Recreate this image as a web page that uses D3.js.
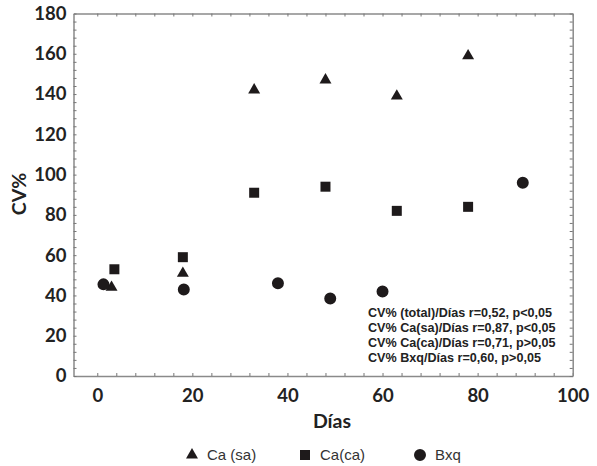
<!DOCTYPE html>
<html>
<head>
<meta charset="utf-8">
<script src="https://cdn.jsdelivr.net/npm/d3@7"></script>
<style>
body { margin: 0; background: #fff; }
svg { display: block; }
.tick-lab { font-family: Lato, "Open Sans", sans-serif; font-weight: bold; font-size: 18.5px; fill: #222; }
.title-lab { font-family: Lato, "Open Sans", sans-serif; font-weight: bold; font-size: 19.5px; fill: #222; }
</style>
</head>
<body>
<svg id="chart" width="597" height="466"></svg>
<script>
// data
var caSaDias = [3, 18, 33, 48, 63, 78];
var caSaCv = [44, 51, 142, 147, 139, 159];
var caCaDias = [3.6, 18, 33, 48, 63, 78];
var caCaCv = [53, 59, 91, 94, 82, 84];
var bxqDias = [1.3, 18.2, 38, 49, 60, 89.5];
var bxqCv = [45.5, 43, 46, 38.5, 42, 96];
var xTicks = [0, 20, 40, 60, 80, 100];
var yTicks = [0, 20, 40, 60, 80, 100, 120, 140, 160, 180];
var notes = [
  "CV% (total)/Días r=0,52, p<0,05",
  "CV% Ca(sa)/Días r=0,87, p<0,05",
  "CV% Ca(ca)/Días r=0,71, p>0,05",
  "CV% Bxq/Días r=0,60, p>0,05"
];
var legendNames = ["Ca (sa)", "Ca(ca)", "Bxq"];

var svg = d3.select("#chart"),
margin = {top: 13.5, right: 24, bottom: 90, left: 73.5},
width = 572.7 - margin.left,
height = 376 - margin.top,
g = svg.append("g").attr("transform", "translate(" + margin.left + "," + margin.top + ")");

var x = d3.scaleLinear().domain([-5, 100]).range([0, width]);
var y = d3.scaleLinear().domain([0, 180]).range([height, 0]);

var minorX = d3.range(0, 101, 4);
var minorY = d3.range(0, 181, 4);

function styleAxis(sel) {
  sel.selectAll(".domain").attr("stroke", "#8a8a8a").attr("stroke-width", 1.5);
  sel.selectAll(".tick line").attr("stroke", "#777").attr("stroke-width", 1);
  sel.selectAll(".tick text").remove();
}

// frame with inward minor ticks on all four sides
g.append("g").attr("transform", "translate(0," + height + ")")
  .call(d3.axisBottom(x).tickValues(minorX).tickSizeInner(-3).tickSizeOuter(0)).call(styleAxis);
g.append("g")
  .call(d3.axisTop(x).tickValues(minorX).tickSizeInner(-3).tickSizeOuter(0)).call(styleAxis);
g.append("g")
  .call(d3.axisLeft(y).tickValues(minorY).tickSizeInner(-3).tickSizeOuter(0)).call(styleAxis);
g.append("g").attr("transform", "translate(" + width + ",0)")
  .call(d3.axisRight(y).tickValues(minorY).tickSizeInner(-3).tickSizeOuter(0)).call(styleAxis);

// tick labels
var xl = g.append("g").attr("transform", "translate(0," + height + ")")
  .call(d3.axisBottom(x).tickValues(xTicks).tickSize(0).tickPadding(13));
xl.select(".domain").remove();
xl.selectAll("text").attr("class", "tick-lab").attr("fill", null);

var yl = g.append("g")
  .call(d3.axisLeft(y).tickValues(yTicks).tickSize(0).tickPadding(7));
yl.select(".domain").remove();
yl.selectAll("text").attr("class", "tick-lab").attr("fill", null);

// axis titles
svg.append("text")
  .attr("transform", "translate(26,194) rotate(-90)")
  .attr("text-anchor", "middle")
  .attr("class", "title-lab")
  .text("CV%");
svg.append("text")
  .attr("x", 332).attr("y", 428)
  .attr("text-anchor", "middle")
  .attr("class", "title-lab")
  .text("Días");

var tri = d3.symbol().type(d3.symbolTriangle).size(62);
var sq = d3.symbol().type(d3.symbolSquare).size(100);
var circ = d3.symbol().type(d3.symbolCircle).size(113);

function plot(xs, ys, sym) {
  g.selectAll(null)
    .data(xs)
    .enter().append("path")
      .attr("d", sym)
      .attr("fill", "#1e1a1b")
      .attr("transform", function(d, i) { return "translate(" + x(d) + "," + y(ys[i]) + ")"; });
}
plot(caSaDias, caSaCv, tri);
plot(caCaDias, caCaCv, sq);
plot(bxqDias, bxqCv, circ);

// correlation notes
svg.append("g").selectAll("text")
  .data(notes)
  .enter().append("text")
    .attr("x", 368)
    .attr("y", function(d, i) { return 316.5 + i * 15.3; })
    .attr("font-family", "Liberation Sans, Arial, sans-serif")
    .attr("font-weight", "bold")
    .attr("font-size", "12.6px")
    .attr("fill", "#222")
    .text(function(d) { return d; });

// legend
var legX = [192, 305, 420];
var legSym = [tri, sq, circ];
var leg = svg.append("g").selectAll("g")
  .data(legendNames)
  .enter().append("g")
    .attr("transform", function(d, i) { return "translate(" + legX[i] + ",455)"; });
leg.append("path")
  .attr("d", function(d, i) { return legSym[i](); })
  .attr("fill", "#1e1a1b");
leg.append("text")
  .attr("x", 15)
  .attr("dy", "0.35em")
  .attr("font-family", "Liberation Sans, Arial, sans-serif")
  .attr("font-size", "15px")
  .attr("fill", "#333")
  .text(function(d) { return d; });
</script>
</body>
</html>
